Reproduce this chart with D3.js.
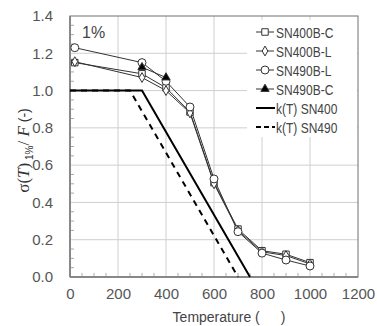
<!DOCTYPE html>
<html>
<head>
<meta charset="utf-8">
<script src="https://cdn.jsdelivr.net/npm/d3@7"></script>
<style>
  body { margin: 0; background: #fff; }
  text { font-family: "Liberation Sans", Arial, sans-serif; }
</style>
</head>
<body>
<div id="chart"></div>
<script>
// temperatures and ratio values
var temps      = [20, 300, 400, 500, 600, 700, 800, 900, 1000];
var sn400bC    = [1.15, 1.09, 1.015, 0.885, 0.506, 0.257, 0.141, 0.122, 0.077];
var sn400bL    = [1.155, 1.07, 1.0, 0.88, 0.50, 0.25, 0.135, 0.115, 0.07];
var sn490bL    = [1.23, 1.15, 1.05, 0.912, 0.526, 0.243, 0.128, 0.091, 0.059];
var sn490cT    = [300, 400];
var sn490bC    = [1.125, 1.07];
var kT400      = [0, 300, 750];
var kV400      = [1, 1, 0];
var kT490      = [0, 250, 700];
var kV490      = [1, 1, 0];
var xTicks     = [0, 200, 400, 600, 800, 1000, 1200];
var yTicks     = [0, 0.2, 0.4, 0.6, 0.8, 1.0, 1.2, 1.4];
var legendNames = ["SN400B-C", "SN400B-L", "SN490B-L", "SN490B-C", "k(T) SN400", "k(T) SN490"];

var margin = { top: 16, right: 19, bottom: 49, left: 70 },
    width  = 377 - margin.left - margin.right,
    height = 326 - margin.top - margin.bottom;

var x = d3.scaleLinear().domain([0, 1200]).range([0, width]);
var y = d3.scaleLinear().domain([0, 1.4]).range([height, 0]);

var svg = d3.select("#chart").append("svg")
    .attr("width", 377).attr("height", 326);
var g = svg.append("g")
    .attr("transform", "translate(" + margin.left + "," + margin.top + ")");

// grid
g.selectAll(".vgrid").data(xTicks.slice(1, -1)).enter().append("line")
    .attr("x1", d => x(d)).attr("x2", d => x(d))
    .attr("y1", 0).attr("y2", height)
    .attr("stroke", "#cfcfcf").attr("stroke-width", 1);
g.selectAll(".hgrid").data(yTicks.slice(1, -1)).enter().append("line")
    .attr("x1", 0).attr("x2", width)
    .attr("y1", d => y(d)).attr("y2", d => y(d))
    .attr("stroke", "#cfcfcf").attr("stroke-width", 1);

// minor ticks (inside)
var xMinor = d3.range(0, 1201, 50).filter(d => d % 200 !== 0);
var yMinor = d3.range(0, 1.401, 0.05).filter(d => Math.abs(d * 5 - Math.round(d * 5)) > 1e-6);
g.selectAll(".xminor").data(xMinor).enter().append("line")
    .attr("x1", d => x(d)).attr("x2", d => x(d))
    .attr("y1", height).attr("y2", height - 4)
    .attr("stroke", "#aaa");
g.selectAll(".yminor").data(yMinor).enter().append("line")
    .attr("x1", 0).attr("x2", 4)
    .attr("y1", d => y(d)).attr("y2", d => y(d))
    .attr("stroke", "#aaa");

// frame
g.append("rect").attr("width", width).attr("height", height)
    .attr("fill", "none").attr("stroke", "#707070").attr("stroke-width", 1);

// axes
var xAxis = d3.axisBottom(x).tickValues(xTicks).tickSize(0).tickPadding(11)
    .tickFormat(d3.format("d"));
var yAxis = d3.axisLeft(y).tickValues(yTicks).tickSize(0).tickPadding(17)
    .tickFormat(d3.format(".1f"));

var gx = g.append("g").attr("transform", "translate(0," + height + ")").call(xAxis);
var gy = g.append("g").call(yAxis);
[gx, gy].forEach(function(a) {
    a.select(".domain").attr("stroke", "#888").attr("stroke-width", 2);
    a.selectAll("text").attr("fill", "#555").style("font-size", "15px")
        .style("font-family", "'Liberation Sans', Arial, sans-serif");
});
gy.select(".domain").attr("d", "M0," + height + "V0");
gx.select(".domain").attr("d", "M0,0H" + width);

// k(T) lines
var line = d3.line().x(d => x(d[0])).y(d => y(d[1]));
g.append("path").datum(d3.zip(kT400, kV400)).attr("d", line)
    .attr("fill", "none").attr("stroke", "#000").attr("stroke-width", 2);
g.append("path").datum(d3.zip(kT490, kV490)).attr("d", line)
    .attr("fill", "none").attr("stroke", "#000").attr("stroke-width", 2)
    .attr("stroke-dasharray", "6,5");

// measured series
var series = [
    { name: "SN400B-C", t: temps, v: sn400bC, shape: "square", fill: "#fff" },
    { name: "SN400B-L", t: temps, v: sn400bL, shape: "diamond", fill: "#fff" },
    { name: "SN490B-L", t: temps, v: sn490bL, shape: "circle", fill: "#fff" },
    { name: "SN490B-C", t: sn490cT, v: sn490bC, shape: "triangle", fill: "#000" }
];
var symbolOf = {
    square: d3.symbol().type(d3.symbolSquare).size(42),
    diamond: d3.symbol().type(d3.symbolDiamond).size(28),
    circle: d3.symbol().type(d3.symbolCircle).size(50),
    triangle: d3.symbol().type(d3.symbolTriangle).size(30)
};

series.forEach(function(s) {
    g.append("path").datum(d3.zip(s.t, s.v)).attr("d", line)
        .attr("fill", "none").attr("stroke", "#333").attr("stroke-width", 1);
});
series.forEach(function(s) {
    g.selectAll(null).data(d3.zip(s.t, s.v)).enter().append("path")
        .attr("d", symbolOf[s.shape])
        .attr("transform", d => "translate(" + x(d[0]) + "," + y(d[1]) + ")")
        .attr("fill", s.fill).attr("stroke", "#333").attr("stroke-width", 1);
});

// "1%" label
g.append("text").attr("x", 12).attr("y", 22).text("1%")
    .style("font-size", "16px").attr("fill", "#444");

// legend
var lg = g.append("g").attr("transform", "translate(" + (width - 111) + ",4)");
lg.append("rect").attr("x", 0).attr("y", 0).attr("width", 110).attr("height", 117)
    .attr("fill", "#fff");
legendNames.forEach(function(name, i) {
    var yy = 12 + i * 19;
    var row = lg.append("g").attr("transform", "translate(0," + yy + ")");
    if (i < 4) {
        row.append("line").attr("x1", 9).attr("x2", 27).attr("y1", 0).attr("y2", 0)
            .attr("stroke", "#333");
        row.append("path").attr("d", symbolOf[series[i].shape])
            .attr("transform", "translate(18,0)")
            .attr("fill", series[i].fill).attr("stroke", "#333");
    } else {
        row.append("line").attr("x1", 9).attr("x2", 28).attr("y1", 0).attr("y2", 0)
            .attr("stroke", "#000").attr("stroke-width", 2)
            .attr("stroke-dasharray", i === 5 ? "5,3" : null);
    }
    // narrow look: squeeze regular text horizontally
    row.append("text").attr("transform", "translate(29,5.5) scale(0.8,1)").text(name)
        .style("font-size", "15px").attr("fill", "#444");
});

// axis titles
svg.append("text").attr("x", margin.left + width / 2 + 15).attr("y", 322)
    .attr("text-anchor", "middle").style("font-size", "14px").attr("fill", "#444")
    .text("Temperature (\u2003\u2002)");

var yl = svg.append("text")
    .attr("transform", "translate(29," + (margin.top + height / 2 + 4) + ") rotate(-90)")
    .attr("text-anchor", "middle").attr("fill", "#333");
yl.append("tspan").style("font-family", "'Liberation Serif', serif").style("font-size", "17px").text("\u03c3(");
yl.append("tspan").style("font-family", "'Liberation Serif', serif").style("font-size", "17px")
    .style("font-style", "italic").text("T");
yl.append("tspan").style("font-family", "'Liberation Serif', serif").style("font-size", "17px").text(")");
yl.append("tspan").style("font-size", "10px").attr("dy", 4).text(" 1%");
yl.append("tspan").style("font-family", "'Liberation Serif', serif").style("font-size", "17px")
    .attr("dy", -4).text("/ ");
yl.append("tspan").style("font-family", "'Liberation Serif', serif").style("font-size", "17px")
    .style("font-style", "italic").text("F");
yl.append("tspan").style("font-size", "14px").text(" (-)");
</script>
</body>
</html>
